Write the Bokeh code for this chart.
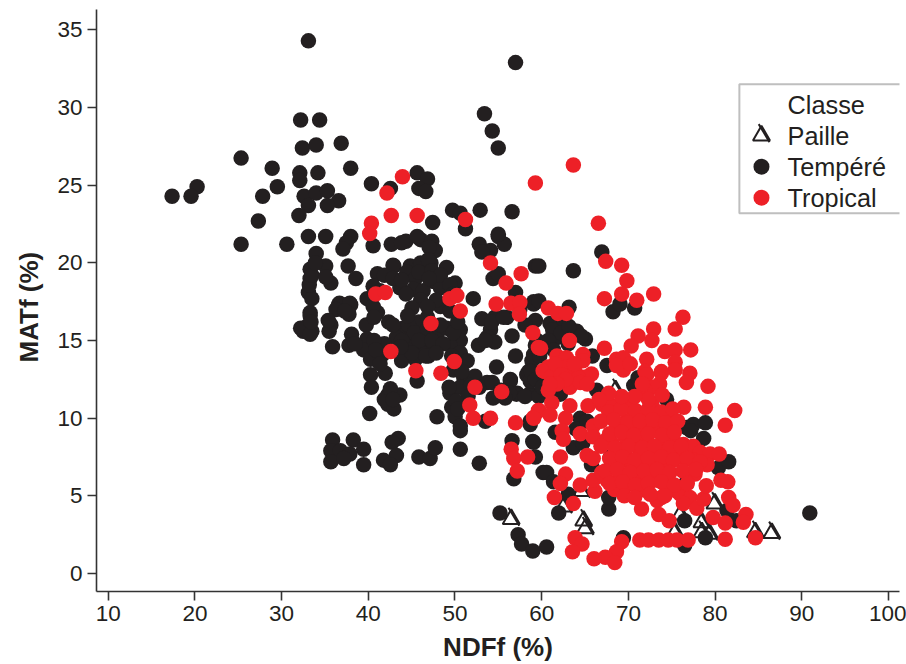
from bokeh.plotting import figure
from bokeh.embed import file_html
from bokeh.resources import INLINE
from bokeh.models import Range1d, Label, BoxAnnotation, Title
import math

FONT = "Liberation Sans"
INK = "#231f20"
RED = "#ed2027"

x_ticks = [10, 20, 30, 40, 50, 60, 70, 80, 90, 100]
y_ticks = [0, 5, 10, 15, 20, 25, 30, 35]
x_title = "NDFf (%)"
y_title = "MATf (%)"
legend_title = "Classe"
legend_labels = ["Paille", "Tempéré", "Tropical"]

paille = [
    (68.8, 11.8), (76.8, 5.9), (56.7, 3.5), (65.1, 3.4), (65.3, 2.9), (75.7, 2.65), (78.8, 3.3),
    (78.8, 2.65), (79.7, 2.55), (80.3, 4.5), (86.9, 2.6), (85.0, 2.65), (62.8, 4.3), (64.9, 5.3),
    (76.3, 3.8),
]

tempere = [
    (33.2, 34.3), (57.2, 32.9), (53.6, 29.6), (54.5, 28.5), (55.2, 27.4), (32.3, 29.2), (34.5, 29.2),
    (32.5, 27.4), (34.1, 27.6), (37.0, 27.7), (25.4, 26.75), (29.0, 26.1), (38.1, 26.1), (32.2, 25.8),
    (32.2, 25.3), (34.3, 25.8), (40.5, 25.1), (29.6, 24.9), (27.9, 24.3), (20.3, 24.9), (19.6, 24.3),
    (17.4, 24.3), (32.7, 24.3), (34.1, 24.5), (35.4, 24.65), (36.7, 24.0), (35.4, 23.7), (33.2, 23.7),
    (32.1, 23.05), (27.4, 22.7), (25.4, 21.2), (30.7, 21.2), (33.2, 21.7), (35.2, 21.7), (38.1, 21.7),
    (37.6, 21.3), (37.2, 20.9), (40.7, 21.1), (42.8, 21.2), (34.1, 20.6), (37.8, 19.8), (35.2, 19.8),
    (33.4, 19.6), (33.4, 19.0), (38.7, 19.0), (35.8, 18.7), (33.2, 18.1), (33.6, 17.7), (36.7, 17.3),
    (37.6, 17.3), (38.1, 17.3), (33.4, 16.8), (42.7, 24.8), (43.1, 19.8), (45.8, 25.8), (47.0, 25.4),
    (46.0, 24.8), (46.8, 24.6), (47.6, 22.6), (46.2, 21.5), (44.5, 21.4), (47.5, 21.4), (47.9, 20.8),
    (47.4, 20.0), (49.9, 23.4), (50.8, 23.2), (53.1, 23.4), (56.8, 23.3), (51.4, 22.2),
    (44.0, 21.3), (45.8, 21.7), (47.2, 21.0), (53.0, 21.2), (55.2, 21.7), (55.9, 21.2), (54.3, 20.8),
    (53.3, 20.7), (36.8, 17.4), (38.0, 17.4), (37.9, 16.7), (33.4, 16.6), (32.6, 15.6), (33.6, 15.6),
    (35.8, 16.0), (35.6, 15.6), (36.0, 14.6), (38.2, 15.4), (37.9, 14.7), (39.9, 16.0), (40.0, 15.1),
    (39.6, 14.4), (40.4, 13.8), (41.8, 14.1), (40.4, 12.8), (42.1, 12.9), (40.5, 12.0), (42.4, 11.5),
    (43.8, 11.5), (42.4, 10.9), (43.1, 10.6), (40.3, 10.3), (41.2, 19.3), (40.7, 18.5), (40.0, 17.7),
    (41.2, 16.8), (43.0, 19.85), (45.0, 19.8), (46.2, 20.0), (47.1, 20.2), (49.2, 19.7), (44.6, 19.4),
    (45.6, 19.0), (43.8, 18.4), (45.4, 18.3), (47.7, 18.8), (50.2, 18.7), (46.5, 18.2), (48.5, 18.4),
    (46.2, 17.6), (45.2, 17.1), (48.5, 17.2), (52.3, 17.7), (49.6, 16.9), (42.5, 16.2), (44.2, 15.8),
    (46.0, 16.2), (43.4, 15.2), (45.0, 15.2), (46.5, 15.4), (48.1, 15.4), (49.2, 15.8), (50.8, 15.7),
    (50.8, 15.0), (49.6, 14.7), (44.6, 14.6), (46.2, 14.6), (47.7, 14.7), (44.0, 13.7), (45.6, 13.8),
    (47.1, 14.0), (50.8, 14.2), (51.6, 13.7), (45.8, 12.4), (50.0, 13.1), (51.2, 12.6), (52.5, 12.7),
    (49.6, 11.6), (50.8, 12.0), (53.9, 12.3), (54.6, 11.3), (49.8, 10.7), (50.2, 10.1), (48.1, 10.1),
    (50.8, 9.2), (53.7, 9.8), (50.8, 8.0), (53.0, 7.1), (36.0, 8.6), (35.8, 7.9), (36.9, 7.9),
    (38.4, 8.6), (39.6, 8.0), (38.0, 7.7), (35.8, 7.2), (37.3, 7.4), (39.6, 7.0), (43.6, 8.7),
    (42.9, 8.45), (43.4, 7.6), (41.9, 7.3), (42.7, 7.0), (46.0, 7.5), (47.3, 7.4), (47.9, 8.1),
    (59.5, 19.8), (54.6, 19.0), (55.2, 19.3), (57.2, 18.1), (59.3, 17.5), (57.7, 17.0), (53.3, 16.4),
    (54.8, 16.5), (56.2, 16.5), (54.3, 15.7), (52.9, 14.7), (53.9, 15.2), (54.8, 14.9), (56.8, 15.3),
    (57.2, 14.0), (55.0, 13.3), (56.6, 12.5), (58.5, 12.8), (59.3, 14.1), (59.7, 15.0), (57.4, 11.6),
    (58.9, 11.6), (58.9, 9.8), (56.8, 8.55), (59.3, 8.45), (57.0, 6.1), (60.4, 6.5), (55.2, 21.85),
    (59.9, 19.8), (63.9, 19.5), (67.2, 20.7), (68.5, 16.85), (69.3, 17.35), (71.0, 17.1), (59.3, 17.35),
    (59.9, 17.55), (63.4, 17.15), (54.45, 16.2), (55.8, 16.5), (59.5, 16.3), (58.3, 16.0), (53.7, 15.0),
    (61.2, 16.1), (62.75, 16.0), (64.3, 15.6), (65.3, 15.1), (62.0, 15.2), (59.5, 14.7), (59.1, 13.7),
    (66.1, 14.0), (67.8, 13.4), (58.7, 13.0), (56.6, 12.4), (57.3, 11.55), (58.3, 11.4), (59.9, 11.4),
    (58.9, 12.4), (60.8, 12.6), (62.4, 11.55), (66.6, 11.8), (67.6, 11.4), (70.9, 12.1), (71.4, 12.6),
    (74.7, 11.2), (77.0, 9.4), (77.8, 9.6), (79.2, 9.7), (79.0, 8.7), (58.9, 9.6), (61.8, 9.1),
    (59.2, 8.5), (59.5, 7.5), (60.8, 6.5), (61.6, 5.9), (63.3, 5.1), (62.2, 3.9), (68.0, 4.15),
    (68.0, 4.9), (63.9, 8.1), (64.7, 10.0), (68.2, 7.5), (80.7, 6.8), (81.9, 7.2), (55.4, 3.9),
    (57.5, 2.5), (57.9, 1.9), (59.2, 1.45), (60.8, 1.7), (69.7, 2.3), (76.8, 1.8), (76.8, 3.4),
    (79.2, 2.3), (82.8, 3.4), (81.7, 4.05), (91.3, 3.9),
    (44.8, 16.0), (45.5, 15.5), (46.0, 15.0), (47.0, 15.8), (47.5, 15.0), (48.8, 14.8), (45.2, 14.2),
    (46.8, 14.0), (44.0, 15.0), (43.9, 14.6), (48.0, 14.2), (48.5, 16.0), (47.0, 16.5), (43.0, 16.0),
    (44.7, 16.6), (42.0, 19.2), (41.5, 18.2), (43.0, 19.0), (44.0, 18.9), (46.0, 19.4), (47.5, 19.5),
    (48.5, 19.2), (49.6, 18.6), (50.0, 18.0), (48.0, 17.6), (47.0, 17.2), (40.7, 17.2), (40.8, 16.5),
    (44.5, 18.0), (47.2, 19.0), (42.0, 14.8), (40.8, 15.0), (41.0, 14.4), (41.5, 13.5), (50.0, 15.5),
    (50.5, 16.2), (49.8, 14.0), (51.0, 13.0), (52.0, 12.1), (53.0, 12.0), (51.7, 11.4), (50.3, 11.1),
    (49.5, 12.0), (50.5, 10.6), (54.5, 12.3), (55.5, 11.8), (56.5, 11.6), (50.8, 9.5), (42.0, 11.2),
    (42.7, 11.9), (43.0, 11.2), (36.4, 17.0), (37.4, 16.9), (33.0, 15.9), (32.3, 15.8),
    (33.4, 15.4), (38.6, 14.8), (35.5, 16.3), (33.5, 16.2), (33.3, 18.6),
    (33.6, 19.2), (34.0, 20.0), (35.2, 19.1), (61.5, 15.7), (62.5, 15.5), (63.4, 15.9), (64.8, 15.3),
    (63.3, 14.8), (61.0, 15.0), (61.6, 14.4), (60.0, 14.0), (59.0, 13.0), (59.5, 12.5), (60.3, 12.0),
    (56.0, 11.3), (55.3, 11.5), (64.2, 9.3), (65.0, 8.4), (65.5, 9.8), (66.0, 7.0), (77.5, 9.2),
]

tropical = [
    (42.3, 24.5), (44.1, 25.55), (42.8, 23.05), (45.8, 23.05), (51.4, 22.8), (40.5, 22.55), (40.3, 21.9),
    (41.0, 18.0), (42.1, 18.1), (47.4, 16.1), (42.75, 14.3), (45.65, 13.05), (48.55, 12.9), (50.1, 13.65),
    (49.6, 17.7), (50.4, 17.9), (50.8, 16.9), (54.3, 20.0), (56.1, 18.7), (57.85, 19.3), (54.95, 17.35),
    (56.65, 17.4), (57.7, 17.45), (57.65, 16.7), (59.2, 15.5), (59.85, 14.55), (52.5, 12.0), (55.6, 11.7),
    (51.9, 10.85), (52.3, 10.0), (54.3, 10.0), (57.2, 9.7), (59.3, 10.05), (59.85, 10.5), (56.7, 8.0),
    (57.0, 7.4), (58.6, 7.5), (57.4, 6.6), (60.4, 13.05), (63.9, 26.3), (59.5, 25.15), (66.8, 22.55),
    (67.65, 20.1), (69.5, 19.85), (70.1, 18.85), (69.5, 18.0), (67.5, 17.7), (71.25, 17.6), (73.2, 18.0),
    (61.0, 17.1), (62.1, 16.75), (63.1, 16.75), (76.6, 16.5), (75.7, 15.75), (73.2, 15.75), (71.4, 15.3),
    (73.0, 15.0), (60.1, 14.5), (63.45, 15.0), (67.5, 14.5), (70.6, 14.65), (77.5, 14.4), (74.5, 14.3),
    (75.7, 14.4), (62.0, 14.0), (63.1, 13.9), (65.0, 14.1), (65.0, 13.7), (68.9, 13.8), (69.7, 13.9),
    (69.7, 13.1), (68.9, 13.4), (70.5, 13.5), (72.4, 13.8), (75.7, 13.6), (75.7, 13.1), (77.4, 12.9),
    (74.1, 13.0), (72.2, 13.0), (61.0, 13.3), (60.6, 13.0), (63.1, 13.3), (64.1, 13.0), (66.0, 12.85),
    (65.3, 12.65), (61.4, 12.7), (64.5, 12.6), (63.5, 12.0), (64.7, 12.3), (61.0, 11.8), (61.4, 11.0),
    (63.5, 10.8), (59.9, 10.5), (59.3, 10.0), (61.2, 10.2), (63.0, 10.0), (62.6, 9.2), (62.75, 8.65),
    (62.4, 7.5), (63.0, 6.4), (62.4, 5.8), (61.7, 4.9), (63.9, 4.5), (64.7, 5.7), (66.4, 5.3),
    (66.2, 6.0), (67.2, 6.5), (68.7, 5.4), (67.8, 6.0), (65.5, 7.6), (66.2, 7.4), (64.7, 9.0),
    (66.2, 9.5), (65.6, 10.8), (67.2, 10.9), (68.5, 10.8), (70.1, 10.9), (72.0, 10.2), (68.9, 9.6),
    (66.2, 8.8), (67.6, 8.55), (68.35, 8.4), (70.1, 8.3), (71.25, 8.55), (69.7, 7.3), (69.3, 6.4),
    (70.9, 6.4), (72.0, 5.4), (72.0, 6.8), (73.6, 7.0), (74.7, 6.8), (74.3, 6.2), (74.1, 4.9),
    (73.6, 4.7), (71.8, 4.15), (73.8, 3.8), (75.0, 3.4), (76.3, 5.1), (77.4, 4.9), (76.65, 4.5),
    (78.2, 4.2), (79.0, 4.8), (79.3, 5.65), (78.0, 6.4), (80.1, 3.6), (81.5, 3.25), (81.0, 6.0),
    (81.8, 5.9), (81.9, 4.9), (82.4, 4.4), (83.9, 3.8), (83.6, 3.3), (81.5, 2.2), (85.0, 2.3),
    (71.6, 2.16), (72.6, 2.16), (73.8, 2.16), (74.9, 2.16), (75.9, 2.16), (77.2, 2.16), (64.1, 2.3),
    (64.9, 1.9), (63.8, 1.4), (69.5, 2.05), (68.9, 1.4), (67.6, 1.05), (66.3, 0.95), (68.7, 0.7),
    (79.5, 12.05), (76.7, 10.7), (79.2, 10.7), (82.6, 10.5), (81.5, 9.55), (77.0, 12.3), (74.1, 12.9),
    (73.9, 12.2), (72.4, 12.8), (73.2, 12.0), (73.0, 10.9), (72.2, 11.8), (73.6, 10.0), (75.1, 9.8),
    (75.5, 9.5), (70.5, 10.7), (71.25, 10.2), (70.1, 9.8), (72.4, 9.4), (73.95, 9.2), (71.25, 9.2),
    (69.9, 8.8), (72.4, 8.55), (73.95, 8.3), (75.5, 8.55), (76.65, 8.3), (77.8, 8.2), (78.6, 7.8),
    (79.75, 7.7), (80.8, 7.7), (79.4, 7.0), (77.8, 7.3), (76.3, 7.5), (75.1, 7.5), (73.6, 7.9),
    (71.6, 7.7), (70.5, 7.3), (72.8, 6.6), (71.8, 6.0), (70.5, 5.8), (73.2, 6.0), (74.7, 5.55),
    (75.9, 5.3),
    (68.0, 10.4), (69.4, 10.6), (71.1, 10.5), (72.6, 10.6), (74.1, 10.4), (75.4, 10.6),
    (67.1, 9.8), (68.6, 9.9), (70.2, 9.7), (71.6, 9.8), (73.1, 9.9), (74.6, 9.7), (76.0, 9.8),
    (68.1, 9.0), (69.5, 9.1), (70.9, 8.9), (72.6, 9.0), (74.2, 8.9), (75.6, 9.1),
    (67.1, 8.2), (68.7, 8.1), (70.3, 8.2), (71.9, 8.1), (73.3, 8.2), (75.1, 8.1), (76.4, 8.2),
    (68.1, 7.4), (69.6, 7.5), (71.0, 7.3), (72.6, 7.4), (74.1, 7.5), (75.5, 7.3), (77.1, 7.4), (78.6, 7.2),
    (67.6, 6.6), (69.0, 6.7), (70.5, 6.5), (72.1, 6.6), (73.6, 6.7), (75.1, 6.5), (76.6, 6.6), (78.1, 6.7),
    (68.1, 5.8), (69.6, 5.9), (71.1, 5.7), (72.6, 5.8), (74.1, 5.9), (75.6, 5.7), (77.1, 5.8),
    (69.8, 5.0), (71.0, 4.9), (72.8, 5.1), (74.5, 5.0),
    (71.9, 12.2), (72.6, 11.2), (74.2, 11.5), (71.0, 11.4), (69.5, 11.4), (68.0, 11.6), (66.9, 11.2),
    (61.8, 13.5), (62.5, 12.8), (63.0, 12.5), (65.5, 12.2), (64.0, 13.5), (62.0, 12.2), (61.2, 12.2),
]

# values were read with a slightly narrower x pixel scale than the axis ticks have
X_CAL = 8.63 / 8.67
def xs(points): return [10 + (a - 10) * X_CAL for a, _ in points]
def ys(points): return [b for _, b in points]

p = figure(width=906, height=664, output_backend="svg", toolbar_location=None,
           x_range=Range1d(8.65, 101.27), y_range=Range1d(-1.16, 36.32),
           min_border_left=96, min_border_right=7, min_border_top=9, min_border_bottom=73,
           outline_line_color=None, background_fill_color="white", border_fill_color="white")
p.grid.visible = False

for ax, ticks in ((p.xaxis[0], x_ticks), (p.yaxis[0], y_ticks)):
    ax.ticker = ticks
    ax.major_label_text_font = FONT
    ax.major_label_text_font_size = "22.5px"
    ax.major_label_text_color = INK
    ax.axis_line_color = "#333333"
    ax.axis_line_width = 1.6
    ax.major_tick_line_color = "#333333"
    ax.major_tick_line_width = 1.6
    ax.major_tick_out = 9
    ax.major_tick_in = 0
    ax.minor_tick_line_color = None
xa = p.xaxis[0]
xa.axis_label = x_title
xa.axis_label_text_font = FONT
xa.axis_label_text_font_style = "bold"
xa.axis_label_text_font_size = "26px"
xa.axis_label_text_color = INK
xa.axis_label_standoff = 8
xa.major_label_standoff = 5
p.yaxis[0].major_label_orientation = "horizontal"
p.yaxis[0].major_label_standoff = 5

p.add_layout(Title(text=y_title, align="left", offset=229, standoff=22, text_font=FONT, text_font_style="bold",
                   text_font_size="26px", text_color=INK), "left")

# Paille: open triangle whose right edge runs past the apex
px, py = xs(paille), ys(paille)
TAIL_DX, TAIL_DY = 0.93, -0.42
p.ray([a + TAIL_DX for a in px], [b + TAIL_DY for b in py], length=21, length_units="screen",
      angle=math.radians(121), line_color=INK, line_width=2)
p.scatter(px, py, marker="triangle", size=17, fill_color=None, line_color=INK, line_width=2)
p.scatter(xs(tempere), ys(tempere), marker="circle", size=15.5, fill_color=INK, line_color=None)
p.scatter(xs(tropical), ys(tropical), marker="circle", size=15.5, fill_color=RED, line_color=None)

# Legend, drawn by hand because its keys are as large as the chart's marks
p.add_layout(BoxAnnotation(left=82.8, right=115, top=31.5, bottom=23.2, fill_color="white", fill_alpha=1,
                           line_color="#2b2b2b", line_width=2, level="annotation"))
label_y = [30.2, 28.2, 26.2, 24.2]
for yy, txt in zip(label_y, [legend_title] + legend_labels):
    p.add_layout(Label(x=88.36, y=yy, text=txt, text_font=FONT, text_font_size="25.3px",
                       text_color=INK, text_baseline="middle", level="overlay"))
key_x = 85.35
p.ray([key_x + TAIL_DX], [label_y[1] + TAIL_DY], length=21, length_units="screen",
      angle=math.radians(121), line_color=INK, line_width=2, level="overlay")
p.scatter([key_x], [label_y[1]], marker="triangle", size=17, fill_color=None, line_color=INK, line_width=2, level="overlay")
p.scatter([key_x], [label_y[2]], marker="circle", size=16, fill_color=INK, line_color=None, level="overlay")
p.scatter([key_x], [label_y[3]], marker="circle", size=16, fill_color=RED, line_color=None, level="overlay")

open("out.html", "w").write(file_html(p, INLINE))
